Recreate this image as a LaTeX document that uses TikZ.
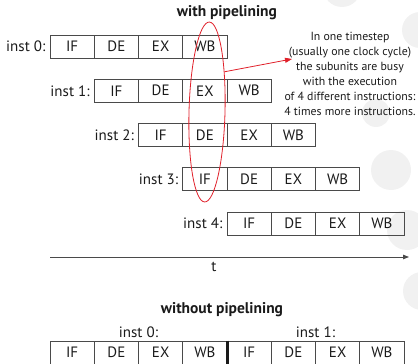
\documentclass[tikz,border=0pt]{standalone}
\usepackage{fontspec}
\setmainfont{PT Sans}
\usetikzlibrary{shapes.geometric,arrows.meta}
\definecolor{boxline}{HTML}{4A4A4A}
\definecolor{ink}{HTML}{1A1A1A}
\definecolor{selred}{HTML}{E0202A}
\definecolor{bgdot}{HTML}{F1F1F1}
\begin{document}
\begin{tikzpicture}[x=1pt,y=-1pt,
  cell/.style={draw=boxline, line width=0.8pt, minimum width=44.25pt,
    minimum height=23pt, inner sep=0pt, text=ink,
    font=\fontsize{15}{18}\selectfont},
  lbl/.style={anchor=east, inner sep=0pt, text=ink,
    font=\fontsize{15}{18}\selectfont},
  ttl/.style={inner sep=0pt, text=ink, font=\fontsize{15.5}{18}\selectfont\bfseries},
  axis/.style={draw=boxline, line width=0.8pt},
]
\useasboundingbox (0,0) rectangle (418,364);

% decorative background dots
\fill[bgdot] (342,-12) circle[radius=19pt];
\fill[bgdot] (420,30) circle[radius=18pt];
\fill[bgdot] (376,113) circle[radius=14pt];
\fill[bgdot] (391,170) circle[radius=20pt];
\fill[bgdot] (407,230) circle[radius=20pt];
\fill[bgdot] (422,291) circle[radius=19pt];

% with pipelining
\node[ttl] (ttl1) at (227,13) {with pipelining};
\foreach \r in {0,...,4} {
  \pgfmathsetmacro\xo{50+44.25*\r}
  \pgfmathsetmacro\yc{46.5+44.25*\r}
  \node[lbl] (lab\r) at (\xo-4.5,\yc) {inst \r:};
  \foreach [count=\c from 0] \s in {IF,DE,EX,WB} {
    \node[cell] (p\r\c) at (\xo+22.125+44.25*\c,\yc) {\s};
  }
}

% stages busy in one timestep
\node[draw=selred, line width=0.8pt, ellipse, minimum width=36pt,
  minimum height=180pt, inner sep=0pt, rotate=-1.5] (sel) at (207,112) {};
\coordinate (tip) at (292,59);
\draw[selred, line width=0.8pt, -{Triangle[length=7pt,width=5pt]}] (sel.68) -- (tip);
\node[align=center, inner sep=0pt, text=ink,
  font=\fontsize{11.8}{15}\selectfont] (note) at (350,73.5)
  {In one timestep\\(usually one clock cycle)\\the subunits are busy\\with the execution\\of 4 different instructions:\\4 times more instructions.};

% time axis
\coordinate (t0) at (50,257);
\coordinate (t1) at (409,257);
\draw[axis, -{Triangle[length=6pt,width=4.5pt]}] (t0) -- (t1);
\node[inner sep=0pt, text=ink, font=\fontsize{15}{18}\selectfont] (tlab) at (214,267) {t};

% without pipelining
\node[ttl] (ttl2) at (222,310) {without pipelining};
\node[inner sep=0pt, text=ink, font=\fontsize{15}{18}\selectfont] (w0) at (138.5,332) {inst 0:};
\node[inner sep=0pt, text=ink, font=\fontsize{15}{18}\selectfont] (w1) at (315.5,332) {inst 1:};
\foreach [count=\c from 0] \s in {IF,DE,EX,WB,IF,DE,EX,WB} {
  \node[cell] (q\c) at (72.125+44.25*\c,352.5) {\s};
}
\draw[ink, line width=2.5pt] (q3.north east) -- (q3.south east);
\end{tikzpicture}
\end{document}
